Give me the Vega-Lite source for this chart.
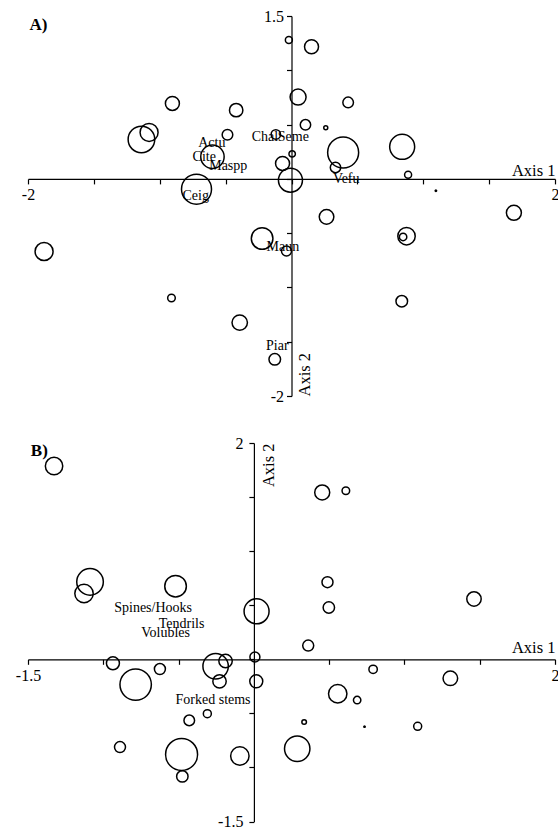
{
  "$schema": "https://vega.github.io/schema/vega-lite/v6.json",
  "padding": {"left": 15, "top": 8, "right": 0, "bottom": 0},
  "bounds": "flush",
  "spacing": 47,
  "config": {
    "view": {"stroke": null},
    "font": "Liberation Serif",
    "axis": {
      "grid": false,
      "domainColor": "black",
      "tickColor": "black",
      "labelColor": "black",
      "titleColor": "black",
      "domainWidth": 1.2,
      "tickWidth": 1.2,
      "tickSize": 5,
      "labelFont": "Liberation Serif",
      "titleFont": "Liberation Serif",
      "labelFontSize": 16,
      "titleFontSize": 16.5,
      "titleFontWeight": "normal",
      "labelFlush": false,
      "labelOverlap": false,
      "labelPadding": 3
    }
  },
  "datasets": {
    "ptsA": [
      {"x": -0.02, "y": 1.278, "w": 3.5},
      {"x": 0.152, "y": 1.217, "w": 7},
      {"x": -0.904, "y": 0.695, "w": 7},
      {"x": 0.05, "y": 0.753, "w": 8},
      {"x": 0.43, "y": 0.704, "w": 5.3},
      {"x": -0.42, "y": 0.633, "w": 6.7},
      {"x": -1.081, "y": 0.428, "w": 9},
      {"x": -1.139, "y": 0.363, "w": 13.3},
      {"x": -0.486, "y": 0.406, "w": 5.3},
      {"x": -0.119, "y": 0.409, "w": 4.7},
      {"x": 0.106, "y": 0.498, "w": 5.2},
      {"x": 0.26, "y": 0.47, "w": 2},
      {"x": 0.392, "y": 0.243, "w": 15.5},
      {"x": 0.84, "y": 0.295, "w": 12.5},
      {"x": 0.005, "y": 0.23, "w": 3.2},
      {"x": -0.6, "y": 0.203, "w": 11.7},
      {"x": -0.068, "y": 0.142, "w": 7},
      {"x": 0.334, "y": 0.105, "w": 5.2},
      {"x": -0.008, "y": -0.012, "w": 12},
      {"x": 0.885, "y": 0.037, "w": 3.5},
      {"x": -0.721, "y": -0.095, "w": 15},
      {"x": 1.096, "y": -0.11, "w": 0.7},
      {"x": 0.266, "y": -0.35, "w": 7.3},
      {"x": 0.873, "y": -0.528, "w": 8.7},
      {"x": 0.847, "y": -0.535, "w": 3.7},
      {"x": 1.688, "y": -0.313, "w": 7.5},
      {"x": 0.837, "y": -1.127, "w": 5.8},
      {"x": -0.223, "y": -0.549, "w": 10.8},
      {"x": -0.038, "y": -0.664, "w": 5},
      {"x": -0.127, "y": -1.662, "w": 5.8},
      {"x": -1.878, "y": -0.669, "w": 9},
      {"x": -0.911, "y": -1.097, "w": 3.8},
      {"x": -0.393, "y": -1.324, "w": 7.7}
    ],
    "labA": [
      {"x": -0.605, "y": 0.329, "label": "Actu"},
      {"x": -0.662, "y": 0.2, "label": "Cite"},
      {"x": -0.48, "y": 0.117, "label": "Maspp"},
      {"x": -0.202, "y": 0.384, "label": "Chal"},
      {"x": 0.014, "y": 0.384, "label": "Seme"},
      {"x": 0.416, "y": -0.003, "label": "Vefu"},
      {"x": -0.727, "y": -0.159, "label": "Ceig"},
      {"x": -0.066, "y": -0.627, "label": "Maun"},
      {"x": -0.108, "y": -1.539, "label": "Piar"}
    ],
    "ptsB": [
      {"x": -1.327, "y": 1.787, "w": 8.7},
      {"x": -1.088, "y": 0.716, "w": 13.3},
      {"x": -1.128, "y": 0.608, "w": 9.2},
      {"x": -0.52, "y": 0.676, "w": 10.8},
      {"x": 0.018, "y": 0.444, "w": 12.5},
      {"x": 0.454, "y": 1.543, "w": 7.5},
      {"x": 0.611, "y": 1.558, "w": 3.8},
      {"x": 0.489, "y": 0.713, "w": 5.5},
      {"x": 0.498, "y": 0.479, "w": 5.7},
      {"x": 1.462, "y": 0.558, "w": 7.2},
      {"x": -0.936, "y": -0.037, "w": 6.5},
      {"x": -0.624, "y": -0.09, "w": 5.5},
      {"x": -0.785, "y": -0.234, "w": 15.7},
      {"x": -0.254, "y": -0.065, "w": 12.7},
      {"x": -0.188, "y": -0.016, "w": 6.7},
      {"x": -0.228, "y": -0.204, "w": 6.7},
      {"x": 0.007, "y": 0.021, "w": 5},
      {"x": 0.016, "y": -0.204, "w": 6.5},
      {"x": -0.429, "y": -0.565, "w": 5.3},
      {"x": -0.309, "y": -0.503, "w": 4},
      {"x": -0.889, "y": -0.812, "w": 5.5},
      {"x": -0.48, "y": -0.88, "w": 16},
      {"x": -0.093, "y": -0.895, "w": 9.2},
      {"x": -0.475, "y": -1.083, "w": 5.7},
      {"x": 0.361, "y": 0.127, "w": 5.5},
      {"x": 0.792, "y": -0.093, "w": 4.2},
      {"x": 1.305, "y": -0.176, "w": 7.3},
      {"x": 0.557, "y": -0.318, "w": 9.2},
      {"x": 0.686, "y": -0.377, "w": 3.7},
      {"x": 0.334, "y": -0.58, "w": 2.3},
      {"x": 0.735, "y": -0.623, "w": 0.7},
      {"x": 1.088, "y": -0.62, "w": 4},
      {"x": 0.288, "y": -0.827, "w": 12.7}
    ],
    "labB": [
      {"x": -0.669, "y": 0.472, "label": "Spines/Hooks"},
      {"x": -0.48, "y": 0.324, "label": "Tendrils"},
      {"x": -0.586, "y": 0.241, "label": "Volubles"},
      {"x": -0.271, "y": -0.38, "label": "Forked stems"}
    ]
  },
  "vconcat": [
    {
      "width": 527,
      "height": 380,
      "layer": [
        {
          "data": {"name": "ptsA"},
          "mark": {"type": "point", "shape": "circle", "filled": false, "color": "black", "strokeWidth": 1.5, "opacity": 1},
          "encoding": {
            "x": {"field": "x", "type": "quantitative",
              "scale": {"domain": [-2, 2], "nice": false, "zero": false},
              "axis": {
                "values": [-2, -1.5, -1, -0.5, 0, 0.5, 1, 1.5, 2],
                "labelExpr": "datum.value == -2 ? '-2' : (datum.value == 2 ? '2' : '')",
                "offset": -217.1,
                "title": "Axis 1",
                "titleX": 527, "titleY": -3,
                "titleAlign": "right", "titleBaseline": "alphabetic", "titleAngle": 0
              }},
            "y": {"field": "y", "type": "quantitative",
              "scale": {"domain": [-2, 1.5], "nice": false, "zero": false},
              "axis": {
                "values": [-2, -1.5, -1, -0.5, 0, 0.5, 1, 1.5],
                "labelExpr": "datum.value == 1.5 ? '1.5' : (datum.value == -2 ? '-2' : '')",
                "offset": -263.5,
                "title": "Axis 2",
                "titleX": 18, "titleY": 380,
                "titleAlign": "left", "titleBaseline": "alphabetic", "titleAngle": 270
              }},
            "size": {"field": "w", "type": "quantitative",
              "scale": {"type": "pow", "exponent": 2, "domain": [0, 20], "range": [0, 1600]},
              "legend": null}
          }
        },
        {
          "data": {"name": "labA"},
          "mark": {"type": "text", "fontSize": 14, "font": "Liberation Serif", "color": "black", "align": "center", "baseline": "middle"},
          "encoding": {
            "x": {"field": "x", "type": "quantitative"},
            "y": {"field": "y", "type": "quantitative"},
            "text": {"field": "label"}
          }
        },
        {
          "data": {"values": [{"label": "A)", "x": -1.92, "y": 1.417}]},
          "mark": {"type": "text", "fontSize": 17, "fontWeight": "bold", "font": "Liberation Serif", "color": "black", "align": "center", "baseline": "middle"},
          "encoding": {
            "x": {"field": "x", "type": "quantitative"},
            "y": {"field": "y", "type": "quantitative"},
            "text": {"field": "label"}
          }
        }
      ]
    },
    {
      "width": 527,
      "height": 378.5,
      "layer": [
        {
          "data": {"name": "ptsB"},
          "mark": {"type": "point", "shape": "circle", "filled": false, "color": "black", "strokeWidth": 1.5, "opacity": 1},
          "encoding": {
            "x": {"field": "x", "type": "quantitative",
              "scale": {"domain": [-1.5, 2], "nice": false, "zero": false},
              "axis": {
                "values": [-1.5, -1, -0.5, 0, 0.5, 1, 1.5, 2],
                "labelExpr": "datum.value == -1.5 ? '-1.5' : (datum.value == 2 ? '2' : '')",
                "offset": -162.2,
                "title": "Axis 1",
                "titleX": 527, "titleY": -6.5,
                "titleAlign": "right", "titleBaseline": "alphabetic", "titleAngle": 0
              }},
            "y": {"field": "y", "type": "quantitative",
              "scale": {"domain": [-1.5, 2], "nice": false, "zero": false},
              "axis": {
                "values": [-1.5, -1, -0.5, 0, 0.5, 1, 1.5, 2],
                "labelExpr": "datum.value == 2 ? '2' : (datum.value == -1.5 ? '-1.5' : '')",
                "offset": -225.9,
                "labelPadding": 6,
                "title": "Axis 2",
                "titleX": 20, "titleY": 0,
                "titleAlign": "right", "titleBaseline": "alphabetic", "titleAngle": 270
              }},
            "size": {"field": "w", "type": "quantitative",
              "scale": {"type": "pow", "exponent": 2, "domain": [0, 20], "range": [0, 1600]},
              "legend": null}
          }
        },
        {
          "data": {"name": "labB"},
          "mark": {"type": "text", "fontSize": 14, "font": "Liberation Serif", "color": "black", "align": "center", "baseline": "middle"},
          "encoding": {
            "x": {"field": "x", "type": "quantitative"},
            "y": {"field": "y", "type": "quantitative"},
            "text": {"field": "label"}
          }
        },
        {
          "data": {"values": [{"label": "B)", "x": -1.425, "y": 1.926}]},
          "mark": {"type": "text", "fontSize": 17, "fontWeight": "bold", "font": "Liberation Serif", "color": "black", "align": "center", "baseline": "middle"},
          "encoding": {
            "x": {"field": "x", "type": "quantitative"},
            "y": {"field": "y", "type": "quantitative"},
            "text": {"field": "label"}
          }
        }
      ]
    }
  ]
}
